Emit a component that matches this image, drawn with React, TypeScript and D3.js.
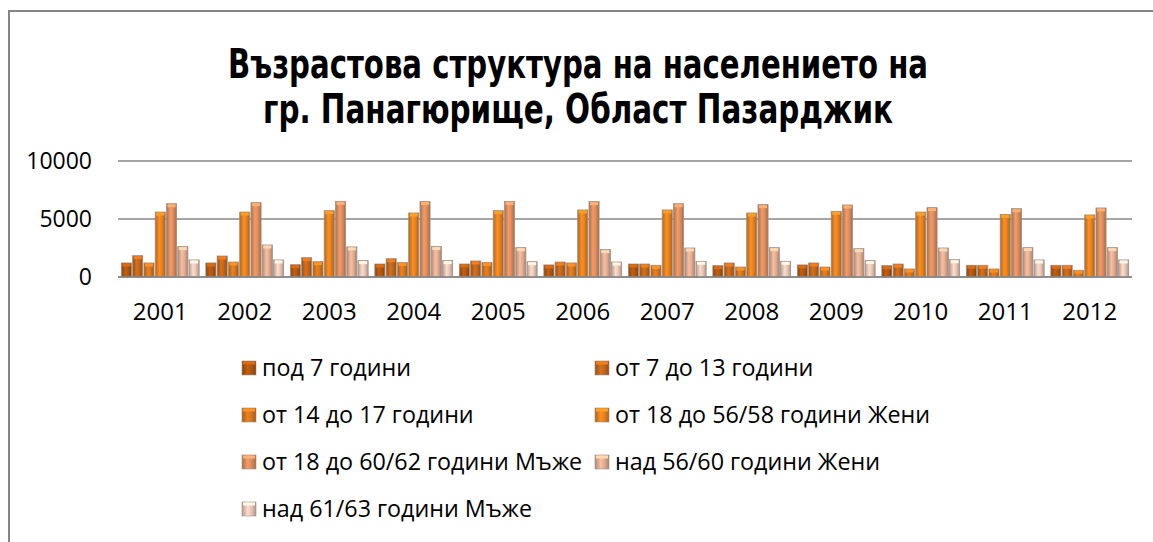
import * as d3 from "d3";

const years = ["2001", "2002", "2003", "2004", "2005", "2006", "2007", "2008", "2009", "2010", "2011", "2012"];

const seriesNames = [
    "под 7 години",
    "от 7 до 13 години",
    "от 14 до 17 години",
    "от 18 до 56/58 години Жени",
    "от 18 до 60/62 години Мъже",
    "над 56/60 години Жени",
    "над 61/63 години Мъже",
];

// one array per age group, 2001..2012
const under7 = [1210, 1210, 1060, 1120, 1120, 1040, 1120, 980, 1040, 980, 1010, 1010];
const from7to13 = [1840, 1810, 1670, 1580, 1380, 1290, 1120, 1210, 1210, 1120, 1010, 1010];
const from14to17 = [1210, 1290, 1320, 1240, 1260, 1210, 1010, 860, 860, 690, 690, 580];
const women18to56 = [5600, 5600, 5720, 5520, 5720, 5780, 5780, 5520, 5660, 5600, 5400, 5350];
const men18to60 = [6320, 6410, 6520, 6500, 6520, 6500, 6320, 6240, 6210, 5980, 5890, 5950];
const womenOver56 = [2620, 2760, 2590, 2620, 2530, 2360, 2500, 2530, 2440, 2500, 2530, 2530];
const menOver61 = [1470, 1470, 1410, 1410, 1320, 1290, 1350, 1350, 1410, 1490, 1470, 1470];

const yTicks = [0, 5000, 10000];

const series = [under7, from7to13, from14to17, women18to56, men18to60, womenOver56, menOver61];
const colors = ["#b2560f", "#c4661a", "#d8761c", "#e8821e", "#df8e5e", "#e4ae92", "#eac8b8"];

const W = 1153;
const H = 542;
const plot = { left: 118, right: 1132, top: 161, bottom: 277 };

const App = () => {
    const x0 = d3
        .scaleBand<string>()
        .domain(years)
        .range([plot.left, plot.right])
        .paddingInner(0.065)
        .paddingOuter(0.0325);

    const x1 = d3
        .scaleBand<number>()
        .domain(d3.range(series.length))
        .range([0, x0.bandwidth()]);

    const y = d3.scaleLinear().domain([0, 10000]).range([plot.bottom, plot.top]);

    const font = "'Open Sans', 'DejaVu Sans', sans-serif";
    const titleFont = "'Liberation Sans Narrow', 'DejaVu Sans Condensed', sans-serif";
    const legendRows = [368, 415, 462, 509];
    const legendCols = [242, 595];

    return (
        <svg
            width={W}
            height={H}
            style={{ position: "absolute", left: 0, top: 0, background: "#fff" }}
        >
            <defs>
                {colors.map((c, i) => {
                    const base = d3.color(c)!;
                    return (
                        <linearGradient key={i} id={`bar${i}`} x1="0" x2="1" y1="0" y2="0">
                            <stop offset="0" stopColor={base.darker(0.7).formatHex()} />
                            <stop offset="0.4" stopColor={base.brighter(0.25).formatHex()} />
                            <stop offset="0.65" stopColor={base.formatHex()} />
                            <stop offset="1" stopColor={base.darker(0.8).formatHex()} />
                        </linearGradient>
                    );
                })}
            </defs>

            {/* chart frame */}
            <rect x={9} y={11} width={1200} height={600} fill="none" stroke="#868686" strokeWidth={2} />

            <text
                x={578}
                y={78}
                textAnchor="middle"
                fontFamily={titleFont}
                fontWeight="bold"
                fontSize={40}
                textLength={700}
                lengthAdjust="spacingAndGlyphs"
            >
                Възрастова структура на населението на
            </text>
            <text
                x={578}
                y={123}
                textAnchor="middle"
                fontFamily={titleFont}
                fontWeight="bold"
                fontSize={40}
                textLength={630}
                lengthAdjust="spacingAndGlyphs"
            >
                гр. Панагюрище, Област Пазарджик
            </text>

            {/* grid + y axis */}
            {yTicks.map((t) => (
                <g key={t}>
                    <line x1={plot.left} x2={plot.right} y1={y(t)} y2={y(t)} stroke="#878787" strokeWidth={1.5} />
                    <text
                        x={92}
                        y={y(t)}
                        dy="0.36em"
                        textAnchor="end"
                        fontFamily={font}
                        fontSize={23}
                        fill="#000"
                    >
                        {t}
                    </text>
                </g>
            ))}

            {/* bars */}
            {years.map((yr, yi) => (
                <g key={yr} transform={`translate(${x0(yr)},0)`}>
                    {series.map((vals, si) => {
                        const bx = x1(si)! + 0.6;
                        const bw = x1.bandwidth() - 1.2;
                        const top = y(vals[yi]);
                        const base = d3.color(colors[si])!;
                        return (
                            <g key={si}>
                                <rect
                                    x={bx}
                                    y={top}
                                    width={bw}
                                    height={plot.bottom - top}
                                    fill={`url(#bar${si})`}
                                    stroke="#9a8f88"
                                    strokeWidth={0.8}
                                />
                                <rect
                                    x={bx + 1}
                                    y={top + 0.5}
                                    width={bw - 2}
                                    height={3}
                                    fill={base.brighter(0.6).formatHex()}
                                />
                            </g>
                        );
                    })}
                    <text
                        x={x0.bandwidth() / 2}
                        y={311}
                        dy="0.36em"
                        textAnchor="middle"
                        fontFamily={font}
                        fontSize={24}
                    >
                        {yr}
                    </text>
                </g>
            ))}
            <line x1={plot.left} x2={plot.right} y1={plot.bottom} y2={plot.bottom} stroke="#878787" strokeWidth={1.5} />

            {/* legend */}
            {seriesNames.map((name, i) => {
                const lx = legendCols[i % 2];
                const ly = legendRows[Math.floor(i / 2)];
                return (
                    <g key={name} transform={`translate(${lx},${ly})`}>
                        <rect x={0} y={-7} width={14} height={14} fill={`url(#bar${i})`} stroke="#9a8f88" strokeWidth={0.6} />
                        <rect x={1} y={-6.5} width={12} height={3} fill={d3.color(colors[i])!.brighter(0.6).formatHex()} />
                        <text x={20} y={0} dy="0.36em" fontFamily={font} fontSize={23.3}>
                            {name}
                        </text>
                    </g>
                );
            })}
        </svg>
    );
};

export default App;
